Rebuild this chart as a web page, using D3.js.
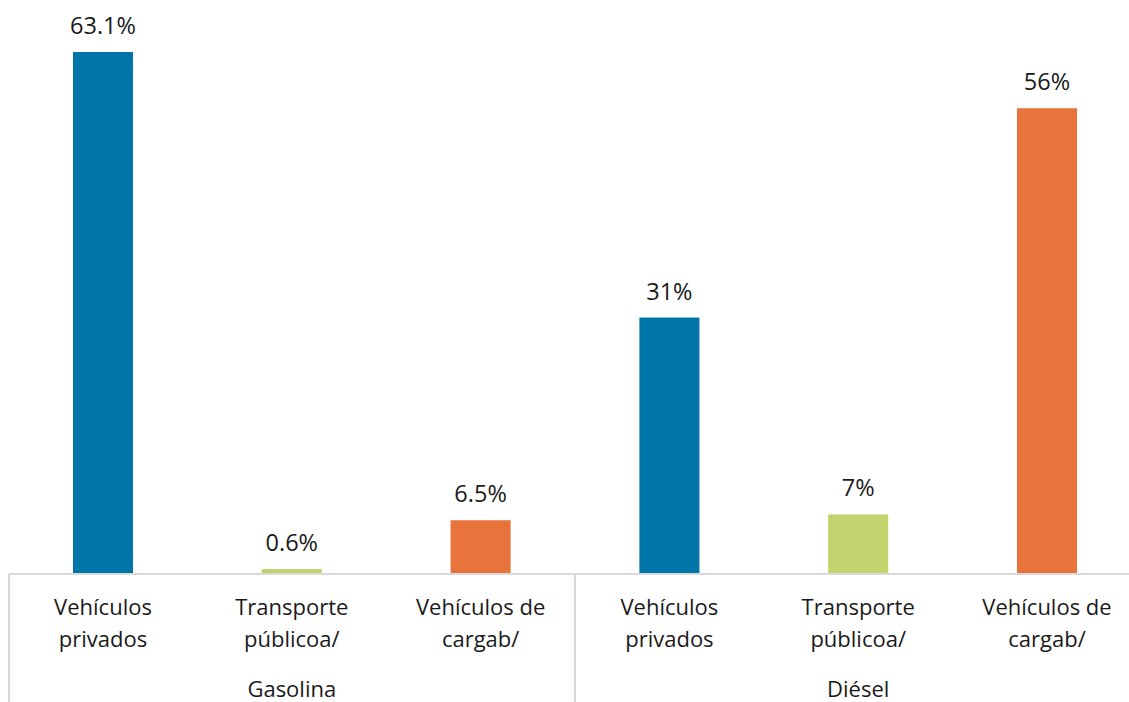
<!DOCTYPE html>
<html>
<head>
<meta charset="utf-8">
<script src="https://cdn.jsdelivr.net/npm/d3@7"></script>
<style>
  html, body { margin: 0; padding: 0; background: #ffffff; }
  svg { display: block; }
  text { font-family: "Open Sans", Roboto, sans-serif; fill: #1a1a1a; }
</style>
</head>
<body>
<svg id="chart" width="1129" height="702"></svg>
<script>
// ---- data ----
const groups = ["Gasolina", "Diésel"];
const categories = ["Vehículos\nprivados", "Transporte\npúblicoa/", "Vehículos de\ncargab/"];
const gasolinaValues = [63.1, 0.6, 6.5];
const dieselValues = [31, 7.2, 56.3];
const valueLabels = ["63.1%", "0.6%", "6.5%", "31%", "7%", "56%"];
const categoryColors = ["#0076A8", "#C0D36C", "#E8743B"];

const rows = [];
groups.forEach((g, gi) => {
  const vals = gi === 0 ? gasolinaValues : dieselValues;
  categories.forEach((c, ci) => {
    rows.push({ key: g + "|" + ci, group: g, cat: c, ci, value: vals[ci], label: valueLabels[gi * 3 + ci] });
  });
});

const svg = d3.select("#chart");
const x0 = 8.6, x1 = 1141.4, base = 574;

const x = d3.scaleBand()
  .domain(rows.map(d => d.key))
  .range([x0, x1])
  .paddingInner(0.682)
  .paddingOuter(0.341);

const y = d3.scaleLinear().domain([0, 70]).range([base, base - 70 * 8.273]);

// bars
svg.append("g").selectAll("rect")
  .data(rows).join("rect")
  .attr("x", d => x(d.key))
  .attr("width", x.bandwidth())
  .attr("y", d => y(d.value))
  .attr("height", d => y(0) - y(d.value))
  .attr("fill", d => categoryColors[d.ci]);

// value labels
svg.append("g").selectAll("text")
  .data(rows).join("text")
  .attr("x", d => x(d.key) + x.bandwidth() / 2)
  .attr("y", d => y(d.value) - 18)
  .attr("text-anchor", "middle")
  .style("font-size", "23.5px")
  .text(d => d.label);

// axis lines
const axisColor = "#d9d9d9";
const ax = svg.append("g");
ax.append("line")
  .attr("x1", x0).attr("x2", x1).attr("y1", base).attr("y2", base)
  .attr("stroke", axisColor).attr("stroke-width", 2);
const step = x.step();
[0, 3, 6].forEach(i => {
  const xv = Math.round(x0 + i * step);
  ax.append("line")
    .attr("x1", xv).attr("x2", xv).attr("y1", base).attr("y2", 702)
    .attr("stroke", axisColor).attr("stroke-width", 2);
});

// category labels
const catG = svg.append("g").selectAll("text")
  .data(rows).join("text")
  .attr("text-anchor", "middle")
  .style("font-size", "22px")
  .attr("transform", d => `translate(${x(d.key) + x.bandwidth() / 2},0)`);
catG.selectAll("tspan")
  .data(d => d.cat.split("\n"))
  .join("tspan")
  .attr("x", 0)
  .attr("y", (l, i) => 615 + i * 32)
  .text(l => l);

// group labels
svg.append("g").selectAll("text")
  .data(groups).join("text")
  .attr("x", (g, i) => x0 + (i * 3 + 1.5) * step)
  .attr("y", 697)
  .attr("text-anchor", "middle")
  .style("font-size", "22px")
  .text(g => g);
</script>
</body>
</html>
